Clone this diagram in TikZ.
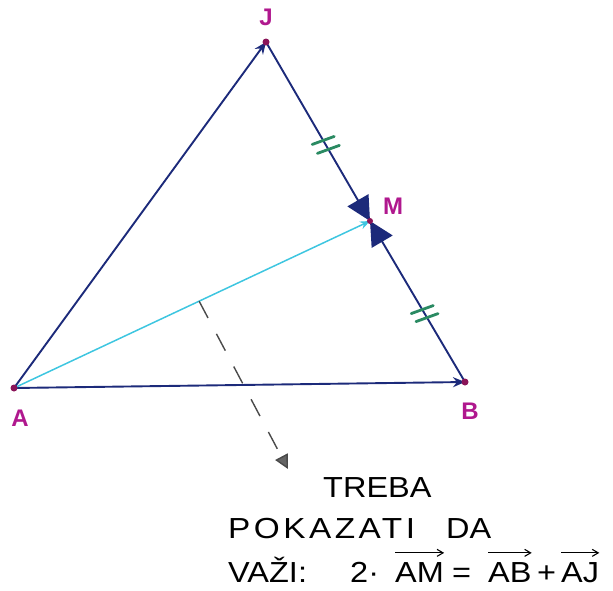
\documentclass[tikz,border=0pt]{standalone}
\usepackage{fontspec}
\setmainfont{Liberation Sans}
\newfontfamily\spacedfont[LetterSpace=12,FakeStretch=1.15]{Liberation Sans}
\newfontfamily\widefont[FakeStretch=1.12]{Liberation Sans}
\usetikzlibrary{arrows.meta,calc}
\definecolor{navy}{HTML}{1C2A7A}
\definecolor{skyc}{HTML}{3EC6E0}
\definecolor{magc}{HTML}{B0188E}
\definecolor{dotc}{HTML}{8A1458}
\definecolor{greenc}{HTML}{2A8A62}
\definecolor{greyc}{HTML}{4A4A4A}
\begin{document}
\begin{tikzpicture}[x=1pt,y=-1pt,
  edge/.style={navy,line width=1.9pt},
  vtx/.style={circle,fill=dotc,inner sep=0pt,minimum size=7pt},
  lbl/.style={magc,font=\fontsize{24}{24}\selectfont\bfseries,inner sep=0pt},
  txt/.style={font=\fontsize{29}{29}\selectfont\widefont,inner sep=0pt,anchor=base west},
  tickst/.style={greenc,line width=2.8pt,line cap=round},
  vecar/.style={line width=1.1pt,-{Straight Barb[length=6pt,width=7pt]}}]
\useasboundingbox (0,0) rectangle (613,590);
\coordinate (A) at (14,388);
\coordinate (B) at (465,382);
\coordinate (J) at (266,42);
\coordinate (M) at (370,221);
% triangle
\draw[edge,-{Stealth[length=12pt,width=10pt]}] (A) -- (J);
\draw[edge,-{Stealth[length=12pt,width=10pt]}] (A) -- (B);
\draw[edge,-{Triangle[length=24pt,width=24pt]}] (J) -- (M);
\draw[edge,-{Triangle[length=24pt,width=24pt]}] (B) -- (M);
\draw[skyc,line width=1.5pt,-{Stealth[length=10pt,width=8pt]}] (A) -- (M);
% vertices
\node[vtx] (vA) at (A) {};
\node[vtx] (vB) at (B) {};
\node[vtx] (vJ) at (J) {};
\node[vtx,minimum size=6pt] (vM) at (M) {};
% labels
\node[lbl] (lJ) at (266,17) {J};
\node[lbl] (lM) at (393,206) {M};
\node[lbl] (lA) at (20,418) {A};
\node[lbl] (lB) at (470,411) {B};
% equal-length ticks
\path (J) -- (M) coordinate[pos=0.55] (t1a) coordinate[pos=0.60] (t1b);
\path (M) -- (B) coordinate[pos=0.55] (t2a) coordinate[pos=0.60] (t2b);
\foreach \t in {t1a,t1b,t2a,t2b}
  \draw[tickst] ([shift={(-11,4)}]\t) -- ([shift={(11,-4)}]\t);
% dashed pointer
\path (A) -- (M) coordinate[pos=0.52] (d0);
\coordinate (d1) at (288,469);
\draw[greyc,line width=1.4pt,dash pattern=on 19pt off 18pt,
  -{Triangle[length=14pt,width=14pt,fill=greyc!85]}] (d0) -- (d1);
% text
\node[txt] (t1) at (323,497) {TREBA};
\node[txt,font=\fontsize{29}{29}\selectfont\spacedfont] (t2) at (228,538) {POKAZATI};
\node[txt] (t2b) at (446,538) {DA};
\node[txt] (t3a) at (228,582) {VAŽI:};
\node[txt] (t3b) at (350,582) {2·};
\node[txt] (t3c) at (395,582) {AM};
\node[txt] (t3d) at (452,582) {=};
\node[txt] (t3e) at (488,582) {AB};
\node[txt] (t3f) at (537,582) {+};
\node[txt] (t3g) at (561,582) {AJ};
\draw[vecar] ([yshift=9pt]t3c.north west) -- ([yshift=9pt]t3c.north east);
\draw[vecar] ([yshift=9pt]t3e.north west) -- ([yshift=9pt]t3e.north east);
\draw[vecar] ([yshift=9pt]t3g.north west) -- ([yshift=9pt]t3g.north east);
\end{tikzpicture}
\end{document}
